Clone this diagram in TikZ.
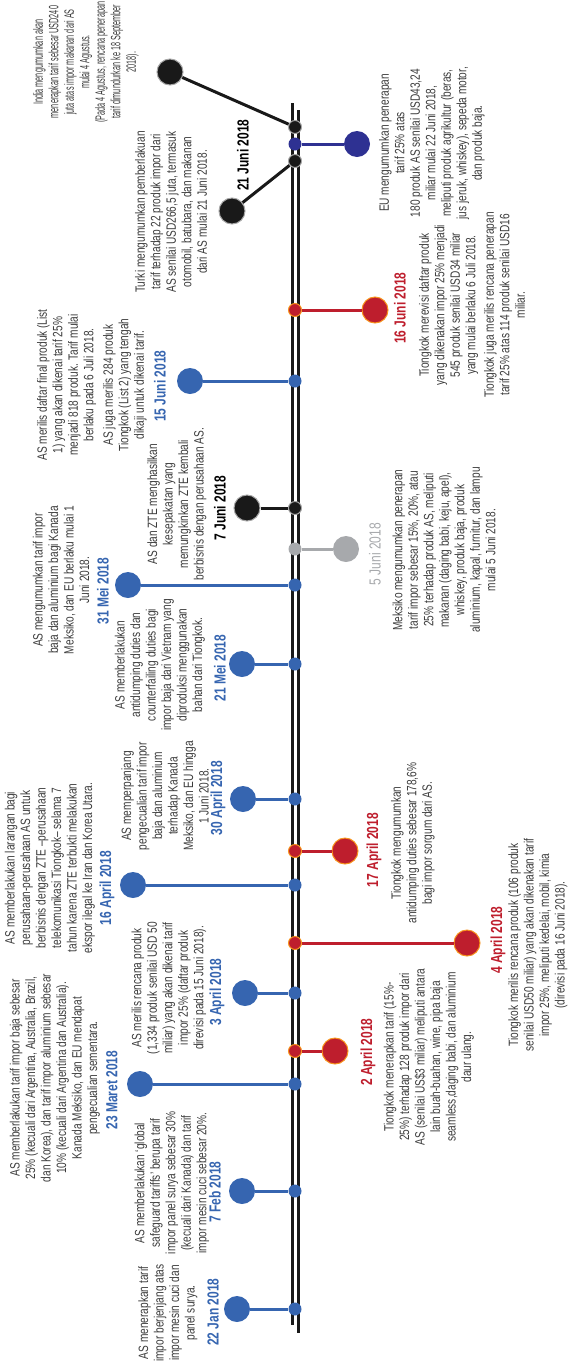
\documentclass[tikz,border=0pt]{standalone}
\usepackage{fontspec}
\setmainfont{Liberation Sans}[FakeStretch=0.75]
\newfontfamily\narrowfont{Liberation Sans}[FakeStretch=0.54]
\usepackage{tikz}
\usepackage{xcolor}
\usetikzlibrary{positioning}

\definecolor{asblue}{RGB}{54,101,176}
\definecolor{cnred}{RGB}{190,30,45}
\definecolor{cnring}{RGB}{247,148,29}
\definecolor{eunavy}{RGB}{46,49,146}
\definecolor{mxgrey}{RGB}{167,169,172}
\definecolor{txtgrey}{RGB}{60,60,60}

\begin{document}
\begin{tikzpicture}[x=1pt, y=-1pt,
    axdot/.style={circle, inner sep=0pt, minimum size=13pt},
    bigdot/.style={circle, inner sep=0pt, minimum size=26pt},
    reddot/.style={fill=cnred, draw=cnring, line width=1pt},
    blkdot/.style={fill=black!90, draw=black!35, line width=1pt},
    stem/.style={line width=3pt},
    info/.style={rotate=90, align=center, text=txtgrey, font=\fontsize{13.5}{15.5}\selectfont},
    datelbl/.style={rotate=90, font=\bfseries\fontsize{16}{18}\selectfont}]
    \useasboundingbox (0,0) rectangle (569,1366);

    % Timeline
    \draw[line width=3pt, black!90] (292.5,103) -- (292.5,1325);
    \draw[line width=3pt, black!90] (298.5,110) -- (298.5,1333);

    % 22 Jan 2018
    \node[axdot, fill=asblue] (jan22) at (295,1309) {};
    \node[bigdot, fill=asblue] (jan22c) at (237,1309) {};
    \draw[stem, asblue] (jan22) -- (jan22c);
    \node[datelbl, asblue] (jan22d) at (213,1312) {22 Jan 2018};
    \node[info] (jan22t) at (168,1313) {AS menerapkan tarif\\impor berjenjang atas\\impor mesin cuci dan\\panel surya.};

    % 7 Feb 2018
    \node[axdot, fill=asblue] (feb7) at (295,1191) {};
    \node[bigdot, fill=asblue] (feb7c) at (242,1191) {};
    \draw[stem, asblue] (feb7) -- (feb7c);
    \node[datelbl, asblue] (feb7d) at (215,1192) {7 Feb 2018};
    \node[info] (feb7t) at (172,1183) {AS memberlakukan `global\\safeguard tariffs' berupa tarif\\impor panel surya sebesar 30\%\\(kecuali dari Kanada) dan tarif\\impor mesin cuci sebesar 20\%.};

    % 23 Maret 2018
    \node[axdot, fill=asblue] (mar23) at (295,1084) {};
    \node[bigdot, fill=asblue] (mar23c) at (140,1084) {};
    \draw[stem, asblue] (mar23) -- (mar23c);
    \node[datelbl, asblue] (mar23d) at (112,1090) {23 Maret 2018};
    \node[info] (mar23t) at (55,1078) {AS memberlakukan tarif impor baja sebesar\\25\% (kecuali dari Argentina, Australia, Brazil,\\dan Korea), dan tarif impor aluminium sebesar\\10\% (kecuali dari Argentina dan Australia).\\Kanada Meksiko, dan EU mendapat\\pengecualian sementara.};

    % 2 April 2018
    \node[axdot, reddot] (apr2) at (295,1051) {};
    \node[bigdot, reddot] (apr2c) at (335,1051) {};
    \draw[stem, cnred] (apr2) -- (apr2c);
    \node[datelbl, cnred] (apr2d) at (368,1052) {2 April 2018};
    \node[info] (apr2t) at (429,1057) {Tiongkok menerapkan tarif (15\%-\\25\%) terhadap 128 produk impor dari\\AS (senilai US\$3 miliar) meliputi antara\\lain buah-buahan, wine, pipa baja\\seamless,daging babi, dan aluminium\\daur ulang.};

    % 3 April 2018
    \node[axdot, fill=asblue] (apr3) at (295,993) {};
    \node[bigdot, fill=asblue] (apr3c) at (245,993) {};
    \draw[stem, asblue] (apr3) -- (apr3c);
    \node[datelbl, asblue] (apr3d) at (217,992) {3 April 2018};
    \node[info] (apr3t) at (169,988) {AS merilis rencana produk\\(1,334 produk senilai USD 50\\miliar) yang akan dikenai tarif\\impor 25\% (daftar produk\\direvisi pada 15 Juni 2018).};

    % 4 April 2018
    \node[axdot, reddot] (apr4) at (295,943) {};
    \node[bigdot, reddot] (apr4c) at (467,943) {};
    \draw[stem, cnred] (apr4) -- (apr4c);
    \node[datelbl, cnred] (apr4d) at (498,940) {4 April 2018};
    \node[info] (apr4t) at (538,945) {Tiongkok merilis rencana produk (106 produk\\senilai USD50 miliar) yang akan dikenakan tarif\\impor 25\%, meliputi kedelai, mobil, kimia\\(direvisi pada 16 Juni 2018).};

    % 16 April 2018
    \node[axdot, fill=asblue] (apr16) at (295,885) {};
    \node[bigdot, fill=asblue] (apr16c) at (133,885) {};
    \draw[stem, asblue] (apr16) -- (apr16c);
    \node[datelbl, asblue] (apr16d) at (107,888) {16 April 2018};
    \node[info] (apr16t) at (50,868) {AS memberlakukan larangan bagi\\perusahaan-perusahaan AS untuk\\berbisnis dengan ZTE --perusahaan\\telekomunikasi Tiongkok-- selama 7\\tahun karena ZTE terbukti melakukan\\ekspor ilegal ke Iran dan Korea Utara.};

    % 17 April 2018
    \node[axdot, reddot] (apr17) at (295,851) {};
    \node[bigdot, reddot] (apr17c) at (345,851) {};
    \draw[stem, cnred] (apr17) -- (apr17c);
    \node[datelbl, cnred] (apr17d) at (374,850) {17 April 2018};
    \node[info] (apr17t) at (413,843) {Tiongkok mengumumkan\\antidumping duties sebesar 178,6\%\\bagi impor sorgum dari AS.};

    % 30 April 2018
    \node[axdot, fill=asblue] (apr30) at (295,799) {};
    \node[bigdot, fill=asblue] (apr30c) at (243,799) {};
    \draw[stem, asblue] (apr30) -- (apr30c);
    \node[datelbl, asblue] (apr30d) at (218,798) {30 April 2018};
    \node[info] (apr30t) at (165,796) {AS memperpanjang\\pengecualian tarif impor\\baja dan aluminium\\terhadap Kanada\\Meksiko, dan EU hingga\\1 Juni 2018.};

    % 21 Mei 2018
    \node[axdot, fill=asblue] (may21) at (295,664) {};
    \node[bigdot, fill=asblue] (may21c) at (242,664) {};
    \draw[stem, asblue] (may21) -- (may21c);
    \node[datelbl, asblue] (may21d) at (220,668) {21 Mei 2018};
    \node[info] (may21t) at (160,665) {AS memberlakukan\\antidumping duties dan\\counterfailing duties bagi\\impor baja dari Vietnam yang\\diproduksi menggunakan\\bahan dari Tiongkok.};

    % 31 Mei 2018
    \node[axdot, fill=asblue] (may31) at (295,585) {};
    \node[bigdot, fill=asblue] (may31c) at (128,585) {};
    \draw[stem, asblue] (may31) -- (may31c);
    \node[datelbl, asblue] (may31d) at (103,591) {31 Mei 2018};
    \node[info] (may31t) at (61,580) {AS mengumumkan tarif impor\\baja dan aluminium bagi Kanada\\Meksiko, dan EU berlaku mulai 1\\Juni 2018.};

    % 5 Juni 2018
    \node[axdot, fill=mxgrey] (jun5) at (295,549) {};
    \node[bigdot, fill=mxgrey] (jun5c) at (346,549) {};
    \draw[stem, mxgrey] (jun5) -- (jun5c);
    \node[datelbl, mxgrey, font=\fontsize{16}{18}\selectfont] (jun5d) at (375,554) {5 Juni 2018};
    \node[info] (jun5t) at (444,550) {Meksiko mengumumkan penerapan\\tarif impor sebesar 15\%, 20\%, atau\\25\% terhadap produk AS, meliputi\\makanan (daging babi, keju, apel),\\whiskey, produk baja, produk\\aluminium, kapal, furnitur, dan lampu\\mulai 5 Juni 2018.};

    % 7 Juni 2018
    \node[axdot, blkdot] (jun7) at (295,508) {};
    \node[bigdot, blkdot] (jun7c) at (247,508) {};
    \draw[stem, black!90] (jun7) -- (jun7c);
    \node[datelbl, black] (jun7d) at (220,508) {7 Juni 2018};
    \node[info] (jun7t) at (177,504) {AS dan ZTE menghasilkan\\kesepakatan yang\\memungkinkan ZTE kembali\\berbisnis dengan perusahaan AS.};

    % 15 Juni 2018
    \node[axdot, fill=asblue] (jun15) at (295,381) {};
    \node[bigdot, fill=asblue] (jun15c) at (190,381) {};
    \draw[stem, asblue] (jun15) -- (jun15c);
    \node[datelbl, asblue] (jun15d) at (160,386) {15 Juni 2018};
    \node[info] (jun15t) at (92,385) {AS merilis daftar final produk (List\\1) yang akan dikenai tarif 25\%\\menjadi 818 produk. Tarif mulai\\berlaku pada 6 Juli 2018.\\[4pt]AS juga merilis 284 produk\\Tiongkok (List 2) yang tengah\\dikaji untuk dikenai tarif.};

    % 16 Juni 2018
    \node[axdot, reddot] (jun16) at (295,310) {};
    \node[bigdot, reddot] (jun16c) at (375,310) {};
    \draw[stem, cnred] (jun16) -- (jun16c);
    \node[datelbl, cnred] (jun16d) at (400,308) {16 Juni 2018};
    \node[info] (jun16t) at (472,305) {Tiongkok merevisi daftar produk\\yang dikenakan impor 25\% menjadi\\545 produk senilai USD34 miliar\\yang mulai berlaku 6 Juli 2018.\\[3pt]Tiongkok juga merilis rencana penerapan\\tarif 25\% atas 114 produk senilai USD16\\miliar.};

    % 21 Juni 2018
    \node[axdot, blkdot] (jun21a) at (295,127) {};
    \node[axdot, fill=eunavy] (jun21b) at (295,144) {};
    \node[axdot, blkdot] (jun21c) at (295,161) {};
    \node[bigdot, blkdot] (india) at (170,72) {};
    \node[bigdot, fill=eunavy] (eu) at (357,144) {};
    \node[bigdot, blkdot] (turki) at (232,211) {};
    \draw[stem, black!90] (jun21a) -- (india);
    \draw[stem, eunavy] (jun21b) -- (eu);
    \draw[stem, black!90] (jun21c) -- (turki);
    \node[datelbl, black] (jun21d) at (243,155) {21 Juni 2018};
    \node[info, font=\narrowfont\fontsize{13.5}{15.5}\selectfont] (indiat) at (86,62) {India mengumumkan akan\\menerapkan tarif sebesar USD240\\juta atas impor makanan dari AS\\mulai 4 Agustus.\\(Pada 4 Agustus, rencana penerapan\\tarif dimundurkan ke 18 September\\2018).};
    \node[info] (turkit) at (171,212) {Turki mengumumkan pemberlakuan\\tarif terhadap 22 produk impor dari\\AS senilai USD266,5 juta, termasuk\\otomobil, batubara, dan makanan\\dari AS mulai 21 Juni 2018.};
    \node[info] (eut) at (432,143) {EU mengumumkan penerapan\\tarif 25\% atas\\180 produk AS senilai USD43,24\\miliar mulai 22 Juni 2018,\\meliputi produk agrikultur (beras,\\jus jeruk, whiskey), sepeda motor,\\dan produk baja.};
\end{tikzpicture}
\end{document}
